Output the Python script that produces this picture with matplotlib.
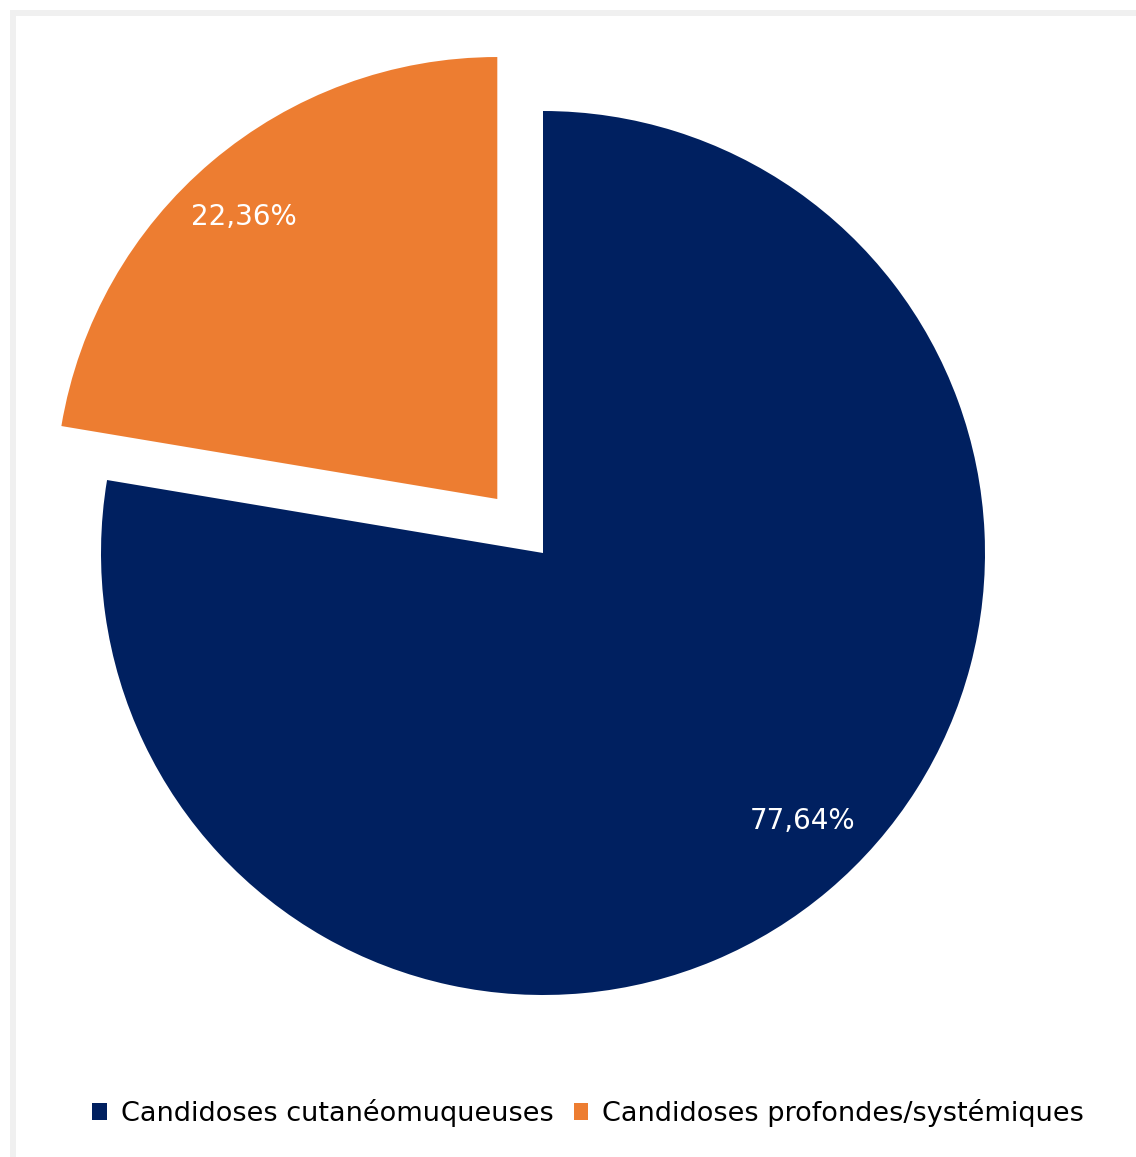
import matplotlib
matplotlib.use("Agg")
import matplotlib.pyplot as plt
from matplotlib.patches import Patch, Rectangle

categories = ["Candidoses cutanéomuqueuses", "Candidoses profondes/systémiques"]
values = [77.64, 22.36]
colors = ["#002060", "#ED7D31"]
explode = [0.0, 0.16]

W, H = 1136, 1157
fig = plt.figure(figsize=(W / 100, H / 100), dpi=100)
fig.patch.set_facecolor("white")

# light grey frame on the top and left edges
fig.patches.append(Rectangle((10 / W, 1 - 16 / H), 1 - 10 / W, 6 / H,
                             transform=fig.transFigure, facecolor="#f0f0f0",
                             edgecolor="none", zorder=0))
fig.patches.append(Rectangle((10 / W, 0), 6 / W, 1 - 10 / H,
                             transform=fig.transFigure, facecolor="#f0f0f0",
                             edgecolor="none", zorder=0))

ax = fig.add_axes([0, 0, 1, 1])
ax.patch.set_alpha(0)

cx, cy, r = 543, 553, 442

def fmt(p):
    return f"{p:.2f}%".replace(".", ",")

wedges, texts, autotexts = ax.pie(
    values, colors=colors, explode=explode, startangle=90, counterclock=False,
    autopct=fmt, pctdistance=0.85,
    textprops=dict(color="white", fontsize=20, family="DejaVu Sans"),
)

# nudge the percentage labels inside their wedges
autotexts[0].set_position((0.588, -0.606))
autotexts[1].set_position((-0.676, 0.760))

ax.set_aspect("auto")
ax.set_xlim(-cx / r, (W - cx) / r)
ax.set_ylim(-(H - cy) / r, cy / r)
ax.axis("off")

handles = [Patch(facecolor=c, edgecolor="none") for c in colors]
fig.legend(handles, categories, loc="center", bbox_to_anchor=(588 / W, 44 / H),
           ncol=2, frameon=False, handlelength=0.55,
           handleheight=0.55, handletextpad=0.5, columnspacing=0.75,
           prop=dict(family="DejaVu Sans", size=19.5))

fig.savefig("out.png", dpi=100, facecolor="white")
